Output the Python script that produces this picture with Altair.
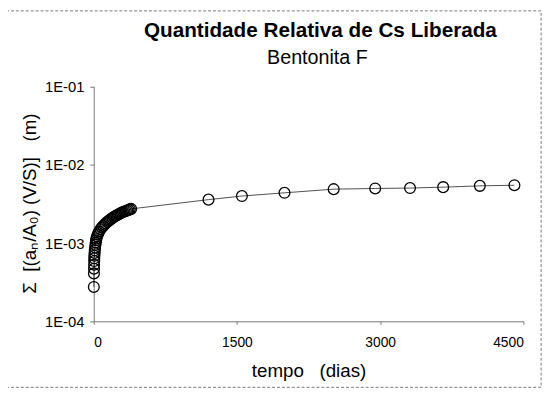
import altair as alt
import pandas as pd

# ---- data ----
dias = [1, 2, 3, 4, 5, 6, 7, 9, 11, 14, 18, 21, 25, 28, 35, 42, 49, 56, 70, 84,
        98, 112, 126, 140, 154, 168, 182, 196, 210, 224, 238, 252, 266, 280,
        294, 308, 322, 336, 350, 364, 378, 392,
        1202, 1552, 1998, 2513, 2948, 3313, 3660, 4044, 4406]
valor = [2.75e-4, 4.1e-4, 4.7e-4, 5.3e-4, 5.9e-4, 6.4e-4, 6.9e-4, 7.5e-4, 8.1e-4,
         8.8e-4, 9.5e-4, 1.02e-3, 1.09e-3, 1.15e-3, 1.22e-3, 1.29e-3, 1.35e-3,
         1.41e-3, 1.50e-3, 1.58e-3, 1.65e-3, 1.72e-3, 1.79e-3, 1.86e-3, 1.92e-3,
         1.98e-3, 2.04e-3, 2.10e-3, 2.16e-3, 2.21e-3, 2.26e-3, 2.31e-3, 2.36e-3,
         2.41e-3, 2.46e-3, 2.50e-3, 2.54e-3, 2.58e-3, 2.62e-3, 2.66e-3, 2.70e-3,
         2.74e-3,
         3.6e-3, 4.0e-3, 4.4e-3, 4.9e-3, 5.0e-3, 5.06e-3, 5.2e-3, 5.4e-3, 5.5e-3]

x_ticks = [0, 1500, 3000, 4500]
y_ticks = [1e-4, 1e-3, 1e-2, 1e-1]
y_tick_labels = ["1E-04", "1E-03", "1E-02", "1E-01"]

NB = "\u00a0"
titulo = "Quantidade Relativa de Cs Liberada"
subtitulo = "Bentonita F"
x_titulo = f"tempo{NB}{NB}{NB}(dias)"
y_titulo = f"Σ{NB}{NB}[(aₙ/A₀){NB}(V/S)]{NB}{NB}{NB}(m)"

FONT = "Liberation Sans"

df = pd.DataFrame({"dias": dias, "valor": valor})

label_expr = "".join(
    f"abs(datum.value - {v}) < {v / 100} ? '{l}' : " for v, l in zip(y_ticks, y_tick_labels)
) + "''"

x_enc = alt.X(
    "dias:Q",
    scale=alt.Scale(domain=[0, 4500], nice=False, zero=False),
    axis=alt.Axis(
        values=x_ticks, format="d", title=x_titulo, grid=False,
        labelFontSize=14, titleFontSize=19, titleFontWeight="normal",
        labelPadding=12, titlePadding=12, tickSize=3,
    ),
)
y_enc = alt.Y(
    "valor:Q",
    scale=alt.Scale(type="log", domain=[1e-4, 1e-1], nice=False),
    axis=alt.Axis(
        values=y_ticks, labelExpr=label_expr, title=y_titulo, grid=False,
        labelFontSize=15, titleFontSize=19, titleFontWeight="normal",
        labelPadding=6, tickSize=4,
        titleX=-65, titleY=118, titleAlign="center", titleBaseline="middle",
        titleAngle=270,
    ),
)

base = alt.Chart(df)

line = base.mark_line(color="#222", strokeWidth=0.8).encode(x=x_enc, y=y_enc)
pts = base.mark_point(shape="circle", filled=False, color="black", strokeWidth=1.3,
                      size=120, opacity=1).encode(x="dias:Q", y="valor:Q")

one = pd.DataFrame({"t": [titulo], "s": [subtitulo]})

frame = alt.Chart(one).mark_rect(
    fill=None, stroke="#777", strokeWidth=1, strokeDash=[3, 2]
).encode(x=alt.value(-89), x2=alt.value(454), y=alt.value(-77), y2=alt.value(305))

title_mark = alt.Chart(one).mark_text(
    font=FONT, fontSize=21, fontWeight="bold", color="black", align="center",
    baseline="alphabetic",
).encode(text="t:N", x=alt.value(230), y=alt.value(-50))

subtitle_mark = alt.Chart(one).mark_text(
    font=FONT, fontSize=20, color="black", align="center", baseline="alphabetic",
).encode(text="s:N", x=alt.value(227), y=alt.value(-23))

chart = alt.layer(frame, title_mark, subtitle_mark, line, pts).properties(
    width=436, height=238,
    autosize=alt.AutoSizeParams(type="none"),
    padding={"left": 87, "top": 77, "right": 26, "bottom": 81},
).configure_view(stroke=None).configure_axis(
    labelFont=FONT, titleFont=FONT, labelColor="black", titleColor="black",
    domainColor="#777", tickColor="#777", domainWidth=1,
)

chart.save("out.html", embed_options={"renderer": "svg", "actions": False})
